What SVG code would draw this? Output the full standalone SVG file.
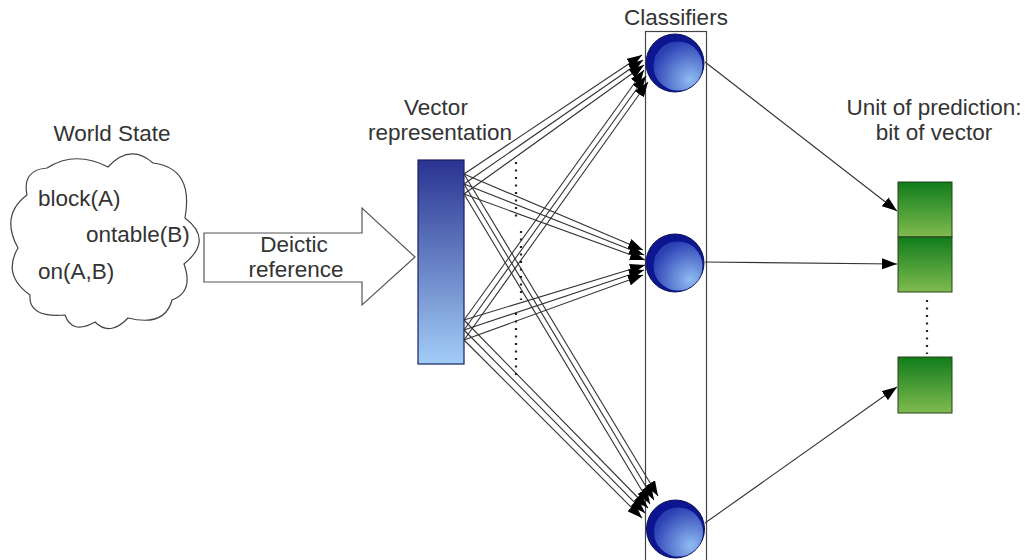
<svg xmlns="http://www.w3.org/2000/svg" width="1030" height="560" viewBox="0 0 1030 560">
<style>
  .t { font-family: "Liberation Sans", Arial, sans-serif; font-size: 22.5px; fill: #333; }
  .mid { text-anchor: middle; }
  .edge { stroke: #333; stroke-width: 1.1; fill: none; marker-end: url(#ah); }
  .dots { stroke: #222; stroke-width: 2.2; stroke-dasharray: 2 5.5; fill: none; }
  .sq { fill: url(#green); stroke: #2a3f1a; stroke-width: 1; }
  .sphere { fill: #0d1690; stroke: #0a0f55; stroke-width: 1; }
  .shine { fill: url(#shine); }
</style>
<defs>
  <marker id="ah" markerUnits="userSpaceOnUse" markerWidth="15" markerHeight="11" refX="15" refY="5.5" orient="auto">
    <path d="M0,0 L15,5.5 L0,11 z" fill="#000"/>
  </marker>
  <linearGradient id="bar" x1="0" y1="0" x2="0" y2="1">
    <stop offset="0" stop-color="#2a3391"/>
    <stop offset="1" stop-color="#a2cdf6"/>
  </linearGradient>
  <linearGradient id="green" x1="0" y1="0" x2="0" y2="1">
    <stop offset="0" stop-color="#107c1b"/>
    <stop offset="1" stop-color="#80bb50"/>
  </linearGradient>
  <radialGradient id="shine" cx="0.75" cy="0.78" r="0.8">
    <stop offset="0" stop-color="#8fbcf2"/>
    <stop offset="1" stop-color="#2c40b4"/>
  </radialGradient>
</defs>
<rect width="1030" height="560" fill="#fff"/>

<g id="world-state">
  <path d="M27,195 Q22,170 47,168 Q75,150 108,167 Q130,143 153,163 Q194,168 185,218 Q214,240 184,264 Q194,292 172,300 Q165,327 128,318 Q110,337 95,322 Q72,335 65,315 Q28,318 30,295 Q2,275 18,248 Q0,215 27,195 Z" fill="#fff" stroke="#444" stroke-width="1.2"/>
  <text class="t mid" x="112" y="141">World State</text>
  <text class="t" x="38" y="206">block(A)</text>
  <text class="t" x="86" y="242">ontable(B)</text>
  <text class="t" x="38" y="279">on(A,B)</text>
</g>

<g id="deictic-reference">
  <polygon points="204,233 362,233 362,208 415,257 362,305 362,282 204,282" fill="#fff" stroke="#555" stroke-width="1.2"/>
  <text class="t mid" x="294" y="252">Deictic</text>
  <text class="t mid" x="296" y="277">reference</text>
</g>

<g id="vector">
  <text class="t mid" x="436" y="115">Vector</text>
  <text class="t mid" x="440" y="140">representation</text>
  <rect x="418" y="160" width="46" height="204" fill="url(#bar)" stroke="#1a2060" stroke-width="1.2"/>
</g>

<g id="classifiers">
  <text class="t mid" x="676" y="25">Classifiers</text>
  <rect x="645.5" y="31.5" width="61" height="540" fill="none" stroke="#444" stroke-width="1.2"/>
</g>

<g id="connectors">
  <!-- top group to top classifier -->
  <line class="edge" x1="464" y1="174" x2="642" y2="55"/>
  <line class="edge" x1="464" y1="184" x2="643" y2="60"/>
  <line class="edge" x1="464" y1="194" x2="644" y2="65"/>
  <!-- lower group to top classifier -->
  <line class="edge" x1="464" y1="320" x2="644" y2="70"/>
  <line class="edge" x1="464" y1="330" x2="646" y2="76"/>
  <line class="edge" x1="464" y1="340" x2="648" y2="82"/>
  <!-- top group to middle classifier -->
  <line class="edge" x1="464" y1="174" x2="643" y2="250"/>
  <line class="edge" x1="464" y1="184" x2="644" y2="255"/>
  <line class="edge" x1="464" y1="194" x2="645" y2="260"/>
  <!-- lower group to middle classifier -->
  <line class="edge" x1="464" y1="320" x2="645" y2="265"/>
  <line class="edge" x1="464" y1="330" x2="644" y2="270"/>
  <line class="edge" x1="464" y1="340" x2="643" y2="275"/>
  <!-- top group to bottom classifier -->
  <line class="edge" x1="464" y1="174" x2="658" y2="496"/>
  <line class="edge" x1="464" y1="184" x2="654" y2="500"/>
  <line class="edge" x1="464" y1="194" x2="650" y2="504"/>
  <!-- lower group to bottom classifier -->
  <line class="edge" x1="464" y1="320" x2="648" y2="508"/>
  <line class="edge" x1="464" y1="330" x2="645" y2="513"/>
  <line class="edge" x1="464" y1="340" x2="642" y2="518"/>
  <!-- dotted continuation marks -->
  <line class="dots" x1="516" y1="162" x2="516" y2="222"/>
  <line class="dots" x1="521" y1="231" x2="521" y2="300"/>
  <line class="dots" x1="516" y1="313" x2="516" y2="377"/>
  <!-- classifiers to prediction bits -->
  <line class="edge" x1="705" y1="62" x2="897" y2="211"/>
  <line class="edge" x1="705" y1="262" x2="897" y2="264"/>
  <line class="edge" x1="705" y1="523" x2="897" y2="387"/>
  <line class="dots" x1="927" y1="300" x2="927" y2="354"/>
</g>

<g id="classifier-1">
  <circle class="sphere" cx="675" cy="63" r="29"/>
  <circle class="shine" cx="678" cy="66" r="24.5"/>
</g>
<g id="classifier-2">
  <circle class="sphere" cx="675" cy="263" r="29"/>
  <circle class="shine" cx="678" cy="266" r="24.5"/>
</g>
<g id="classifier-3">
  <circle class="sphere" cx="675.5" cy="529" r="29"/>
  <circle class="shine" cx="678.5" cy="532" r="24.5"/>
</g>

<g id="prediction">
  <text class="t mid" x="934" y="115">Unit of prediction:</text>
  <text class="t mid" x="934" y="140">bit of vector</text>
</g>
<g id="bit-1"><rect class="sq" x="898" y="182" width="54" height="55"/></g>
<g id="bit-2"><rect class="sq" x="898" y="237" width="54" height="55"/></g>
<g id="bit-3"><rect class="sq" x="898" y="357" width="54" height="56"/></g>
</svg>
